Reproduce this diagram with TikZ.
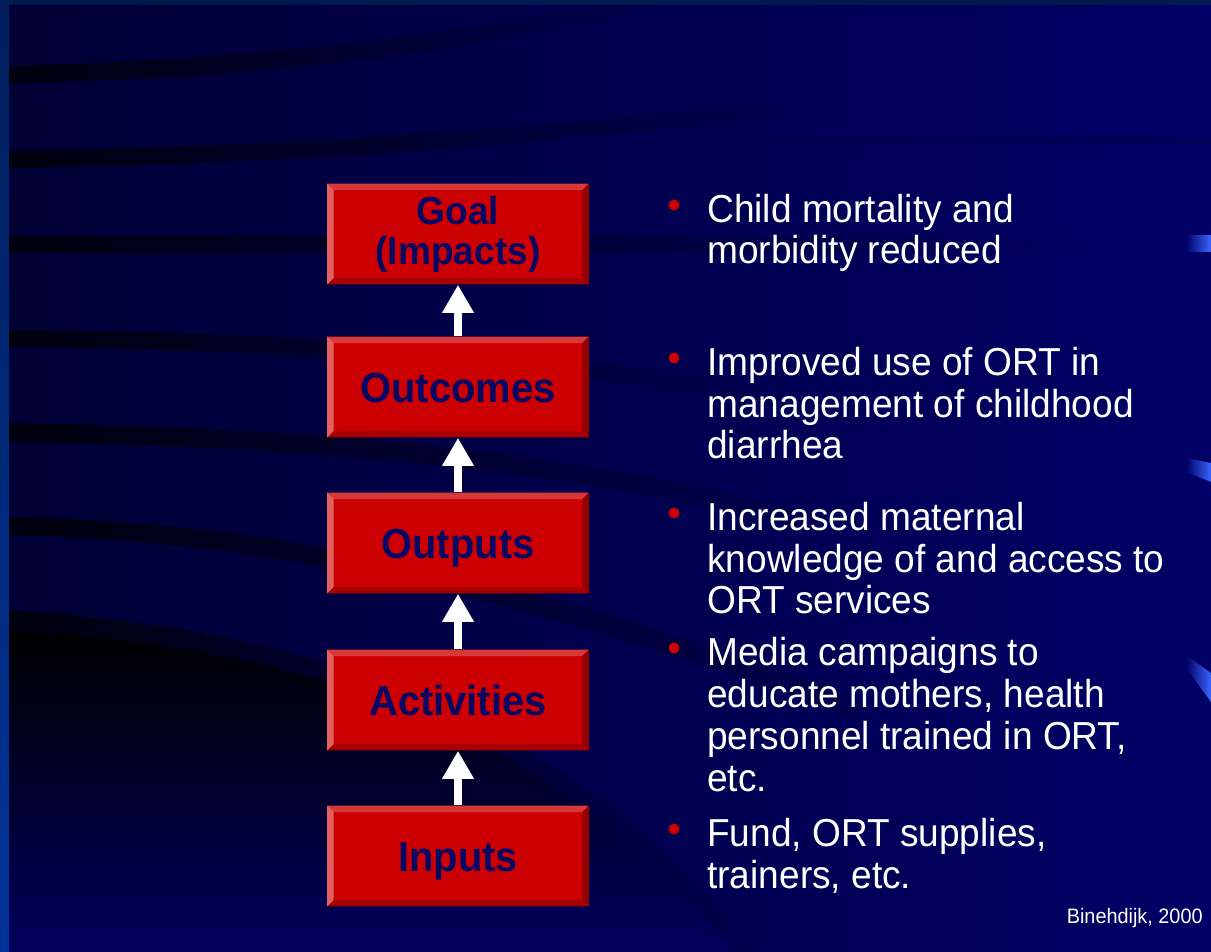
\documentclass[tikz,border=0pt]{standalone}
\usepackage{fontspec}
\usepackage{xcolor}
\usepackage{tikz}
\usetikzlibrary{calc}
\usetikzlibrary{arrows.meta}

\newfontfamily\slidefont{Liberation Sans}[FakeStretch=0.95]

\definecolor{slidenavy}{RGB}{0,0,102}
\definecolor{slidedeep}{RGB}{0,0,52}
\definecolor{bandblack}{RGB}{0,0,14}
\definecolor{bandfade}{RGB}{0,0,78}
\definecolor{topbar}{RGB}{0,26,80}
\definecolor{edgeblue}{RGB}{0,51,153}
\definecolor{swoosh}{RGB}{58,102,255}
\definecolor{boxred}{RGB}{204,0,0}
\definecolor{bevtop}{RGB}{216,56,56}
\definecolor{bevleft}{RGB}{226,96,96}
\definecolor{bevbottom}{RGB}{166,0,0}
\definecolor{bevright}{RGB}{146,0,0}
\definecolor{boxtext}{RGB}{8,8,100}

\begin{document}
\begin{tikzpicture}[x=0.02cm, y=-0.02cm]
\tikzstyle{level} = [rectangle, fill=boxred, minimum width=5.24cm, minimum height=2.02cm, inner sep=0pt,
  align=center, text=boxtext, font=\slidefont\bfseries\fontsize{23.9}{23.9}\selectfont,
  path picture={
    \path (path picture bounding box.north west) coordinate (nw)
          (path picture bounding box.north east) coordinate (ne)
          (path picture bounding box.south east) coordinate (se)
          (path picture bounding box.south west) coordinate (sw);
    \fill[bevtop] (nw) -- (ne) -- ($(ne)+(-0.13cm,-0.13cm)$) -- ($(nw)+(0.13cm,-0.13cm)$) -- cycle;
    \fill[bevright] (ne) -- (se) -- ($(se)+(-0.13cm,0.13cm)$) -- ($(ne)+(-0.13cm,-0.13cm)$) -- cycle;
    \fill[bevbottom] (se) -- (sw) -- ($(sw)+(0.13cm,0.13cm)$) -- ($(se)+(-0.13cm,0.13cm)$) -- cycle;
    \fill[bevleft] (sw) -- (nw) -- ($(nw)+(0.13cm,-0.13cm)$) -- ($(sw)+(0.13cm,0.13cm)$) -- cycle;
  }]
\tikzstyle{oneline} = [level, text height=17.1pt, text depth=0pt]
\tikzstyle{item}  = [anchor=base west, inner sep=0pt, align=left, text=white,
  font=\slidefont\fontsize{22.2}{23.9}\selectfont]
\tikzstyle{dot}   = [circle, fill=boxred, minimum size=0.22cm, inner sep=0pt]
\tikzstyle{flow}  = [draw=white, line width=0.16cm, -{Triangle[width=0.6cm, length=0.56cm]}]
\tikzstyle{band}  = [left color=bandblack, right color=bandfade]

\useasboundingbox (0,0) rectangle (1211,952);

%%Background
\shade[left color=slidedeep, right color=slidenavy] (0,0) rectangle (1211,952);
\shade[band] (9,66) .. controls (250,60) and (450,35) .. (600,4) -- (670,4)
  .. controls (480,52) and (250,80) .. (9,83) -- cycle;
\shade[band] (9,151) .. controls (300,146) and (550,128) .. (780,100) -- (780,118)
  .. controls (550,143) and (300,164) .. (9,168) -- cycle;
\shade[left color=bandfade, right color=bandfade!70!slidenavy] (560,138) rectangle (1211,145);
\shade[left color=bandblack, right color=slidenavy] (9,237) rectangle (1160,253);
\shade[band] (9,330) .. controls (300,332) and (550,350) .. (760,385) -- (760,402)
  .. controls (550,370) and (300,349) .. (9,347) -- cycle;
\shade[band] (9,423) .. controls (300,428) and (550,445) .. (820,515) -- (820,532)
  .. controls (550,466) and (300,446) .. (9,442) -- cycle;
\shade[band] (9,517) .. controls (250,522) and (500,565) .. (860,700) -- (860,720)
  .. controls (500,588) and (250,540) .. (9,535) -- cycle;
\shade[band] (9,610) .. controls (300,630) and (550,700) .. (760,952) -- (735,952)
  .. controls (540,715) and (300,650) .. (9,630) -- cycle;
\shade[top color=black, bottom color=slidenavy!90!black] (9,630)
  .. controls (300,650) and (540,715) .. (735,952) -- (9,952) -- cycle;
\fill[topbar] (0,0) rectangle (1211,5);
\shade[top color=edgeblue!60!black, bottom color=edgeblue] (0,0) rectangle (9,952);
\shade[left color=slidenavy, right color=swoosh] (1186,236) -- (1211,236) -- (1211,252) -- (1186,252) -- cycle;
\shade[left color=slidenavy, right color=swoosh] (1186,458) -- (1211,463) -- (1211,482) -- (1186,472) -- cycle;
\shade[left color=slidenavy, right color=swoosh] (1186,655) -- (1211,673) -- (1211,702) -- (1186,668) -- cycle;

%%Chain
\node [level, font=\slidefont\bfseries\fontsize{22.2}{22.8}\selectfont](goal) at (458,234) {Goal\\(Impacts)};
\node [oneline](outcomes) at (458,387) {Outcomes};
\node [oneline](outputs) at (458,543) {Outputs};
\node [oneline](activities) at (458,700) {Activities};
\node [oneline](inputs) at (458,856) {Inputs};

\draw [flow] (outcomes.north) -- (goal.south);
\draw [flow] (outputs.north) -- (outcomes.south);
\draw [flow] (activities.north) -- (outputs.south);
\draw [flow] (inputs.north) -- (activities.south);

%%Examples (anchored on the last line)
\node [item](t1) at (707,264) {Child mortality and\\morbidity reduced};
\node [item](t2) at (707,459) {Improved use of ORT in\\management of childhood\\diarrhea};
\node [item](t3) at (707,614) {Increased maternal\\knowledge of and access to\\ORT services};
\node [item](t4) at (707,791) {Media campaigns to\\educate mothers, health\\personnel trained in ORT,\\etc.};
\node [item](t5) at (707,888) {Fund, ORT supplies,\\trainers, etc.};

\node [dot](d1) at ($(t1.base west)+(-33,-59)$) {};
\node [dot](d2) at ($(t2.base west)+(-33,-101)$) {};
\node [dot](d3) at ($(t3.base west)+(-33,-101)$) {};
\node [dot](d4) at ($(t4.base west)+(-33,-143)$) {};
\node [dot](d5) at ($(t5.base west)+(-33,-59)$) {};

\node [anchor=base east, inner sep=0pt, text=white, font=\slidefont\fontsize{11.9}{12}\selectfont](src)
  at (1203,923) {Binehdijk, 2000};
\end{tikzpicture}
\end{document}
